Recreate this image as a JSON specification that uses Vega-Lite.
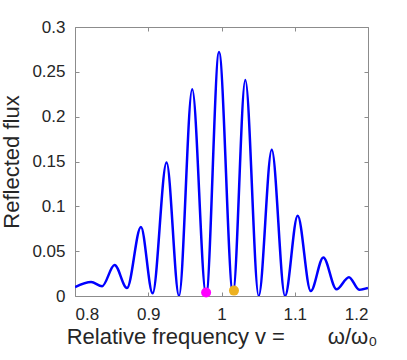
{
  "$schema": "https://vega.github.io/schema/vega-lite/v6.json",
  "width": 293,
  "height": 269,
  "autosize": {"type": "none"},
  "padding": {"left": 75, "top": 27, "right": 39, "bottom": 64},
  "config": {
    "view": {"stroke": "#8c8c8c", "strokeWidth": 1},
    "axis": {
      "grid": false,
      "domain": false,
      "tickColor": "#8c8c8c",
      "tickSize": -4,
      "labelFont": "Liberation Sans",
      "labelFontSize": 17,
      "labelColor": "#262626",
      "titleFont": "Liberation Sans",
      "titleFontSize": 22,
      "titleFontWeight": "normal",
      "titleColor": "#262626"
    }
  },
  "datasets": {
    "curve": [
      {"v": 0.800, "flux": 0.0100},
      {"v": 0.822, "flux": 0.0155},
      {"v": 0.837, "flux": 0.0110},
      {"v": 0.854, "flux": 0.0345},
      {"v": 0.871, "flux": 0.0088},
      {"v": 0.890, "flux": 0.0770},
      {"v": 0.906, "flux": 0.0030},
      {"v": 0.925, "flux": 0.1490},
      {"v": 0.942, "flux": 0.0000},
      {"v": 0.960, "flux": 0.2305},
      {"v": 0.979, "flux": 0.0010},
      {"v": 0.9966, "flux": 0.2720},
      {"v": 1.0157, "flux": 0.0030},
      {"v": 1.0325, "flux": 0.2410},
      {"v": 1.0508, "flux": 0.0000},
      {"v": 1.0686, "flux": 0.1630},
      {"v": 1.0867, "flux": 0.0000},
      {"v": 1.104, "flux": 0.0895},
      {"v": 1.1218, "flux": 0.0055},
      {"v": 1.139, "flux": 0.0430},
      {"v": 1.157, "flux": 0.0075},
      {"v": 1.174, "flux": 0.0210},
      {"v": 1.188, "flux": 0.0070},
      {"v": 1.200, "flux": 0.0090}
    ],
    "dots": [
      {"v": 0.979, "flux": 0.004, "c": "a"},
      {"v": 1.017, "flux": 0.006, "c": "b"}
    ]
  },
  "layer": [
    {
      "data": {"name": "curve"},
      "mark": {"type": "line", "color": "#0000ff", "strokeWidth": 2.5, "interpolate": "monotone", "clip": true},
      "encoding": {
        "x": {
          "field": "v", "type": "quantitative",
          "scale": {"domain": [0.8, 1.2], "nice": false, "zero": false},
          "axis": {"orient": "bottom", "values": [0.8, 0.9, 1, 1.1, 1.2], "format": "~g", "labelPadding": 14, "titlePadding": 4,
                   "title": "Relative frequency v =\u00a0\u00a0\u00a0\u00a0\u00a0\u00a0\u00a0ω/ω₀"}
        },
        "y": {
          "field": "flux", "type": "quantitative",
          "scale": {"domain": [0, 0.3], "nice": false},
          "axis": {"orient": "left", "values": [0, 0.05, 0.1, 0.15, 0.2, 0.25, 0.3], "format": "~g", "labelPadding": 14, "titlePadding": 8,
                   "title": "Reflected flux"}
        }
      }
    },
    {
      "data": {"name": "dots"},
      "mark": {"type": "point", "filled": true, "opacity": 1, "size": 100},
      "encoding": {
        "x": {
          "field": "v", "type": "quantitative",
          "scale": {"domain": [0.8, 1.2], "nice": false, "zero": false},
          "axis": {"orient": "top", "values": [0.8, 0.9, 1, 1.1, 1.2], "labels": false, "title": null}
        },
        "y": {
          "field": "flux", "type": "quantitative",
          "scale": {"domain": [0, 0.3], "nice": false},
          "axis": {"orient": "right", "values": [0, 0.05, 0.1, 0.15, 0.2, 0.25, 0.3], "labels": false, "title": null}
        },
        "color": {
          "field": "c", "type": "nominal",
          "scale": {"domain": ["a", "b"], "range": ["#ff00ff", "#edb120"]},
          "legend": null
        }
      }
    }
  ],
  "resolve": {"axis": {"x": "independent", "y": "independent"}}
}
